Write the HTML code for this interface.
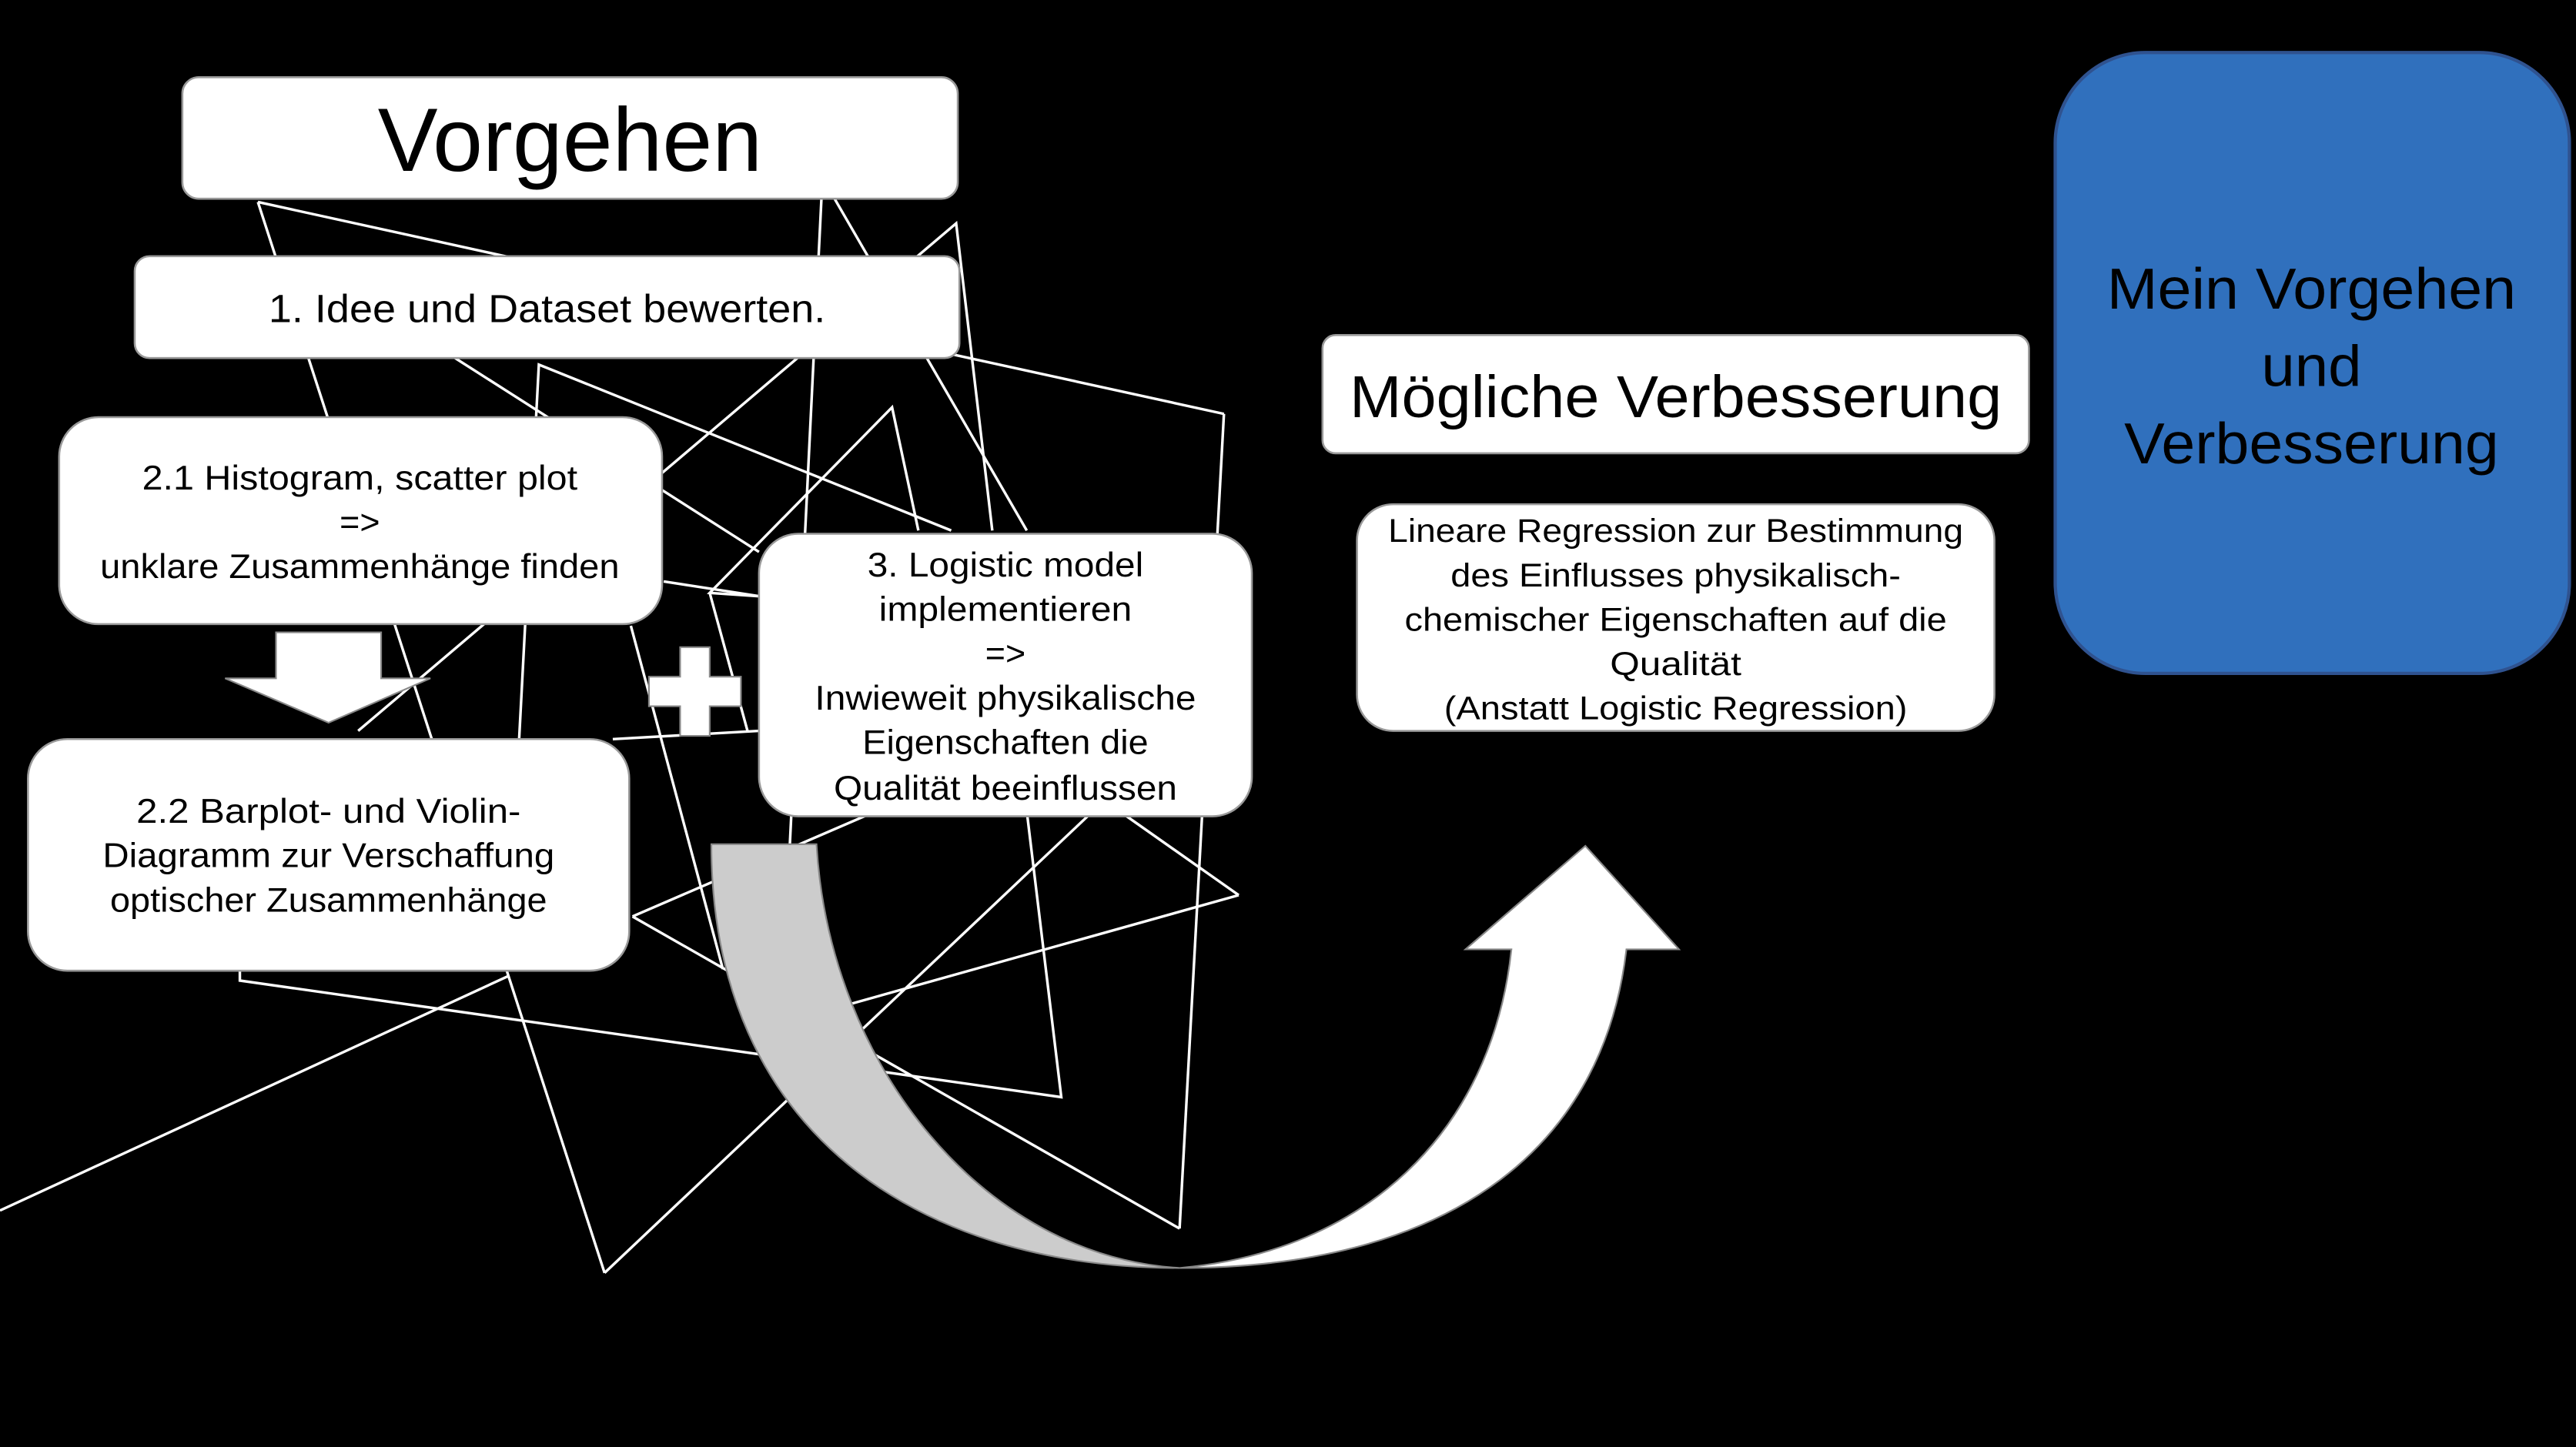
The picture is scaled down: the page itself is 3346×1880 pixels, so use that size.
<!DOCTYPE html>
<html>
<head>
<meta charset="utf-8">
<style>
html,body{margin:0;padding:0;background:#000;}
svg{display:block;}
text{font-family:"Liberation Sans",sans-serif;fill:#000;}
</style>
</head>
<body>
<svg width="3346" height="1880" viewBox="0 0 1568 881" preserveAspectRatio="none" xmlns="http://www.w3.org/2000/svg">
<rect x="0" y="0" width="1568" height="881" fill="#000"/>
<g stroke="#fff" stroke-width="1.6" fill="none">
<line x1="157" y1="123" x2="745" y2="252"/>
<line x1="745" y1="252" x2="718" y2="748"/>
<line x1="718" y1="748" x2="385" y2="558"/>
<line x1="385" y1="558" x2="533" y2="494"/>
<line x1="683" y1="495" x2="754" y2="545"/>
<line x1="754" y1="545" x2="515" y2="612"/>
<line x1="157" y1="123" x2="368" y2="775"/>
<line x1="368" y1="775" x2="662" y2="497"/>
<line x1="0" y1="737" x2="310" y2="594"/>
<polyline points="146,590 146,597 646,668 625,494"/>
<line x1="500" y1="121" x2="480" y2="530"/>
<line x1="508" y1="121" x2="625" y2="323"/>
<polyline points="604,323 582,136 218,445"/>
<polyline points="316,450 328,222 579,323"/>
<line x1="277" y1="218" x2="462" y2="336"/>
<polyline points="559,323 543,248 432,361 462,363"/>
<line x1="404" y1="354" x2="462" y2="363"/>
<line x1="432" y1="361" x2="455" y2="445"/>
<line x1="384" y1="381" x2="440" y2="590"/>
<line x1="373" y1="450" x2="462" y2="445"/>
</g>

<rect x="111" y="47" width="472" height="74" rx="10" fill="#fff" stroke="#999" stroke-width="1.2"/>
<text x="347" y="104" font-size="55" text-anchor="middle" textLength="234" lengthAdjust="spacingAndGlyphs">Vorgehen</text>

<rect x="82" y="156" width="502" height="62" rx="9" fill="#fff" stroke="#999" stroke-width="1.2"/>
<text x="333" y="196" font-size="24" text-anchor="middle" textLength="339" lengthAdjust="spacingAndGlyphs">1. Idee und Dataset bewerten.</text>

<rect x="36" y="254" width="367" height="126" rx="24" fill="#fff" stroke="#999" stroke-width="1.2"/>
<g font-size="21" text-anchor="middle">
<text x="219" y="298" textLength="265" lengthAdjust="spacingAndGlyphs">2.1 Histogram, scatter plot</text>
<text x="219" y="325">=&gt;</text>
<text x="219" y="352" textLength="316" lengthAdjust="spacingAndGlyphs">unklare Zusammenhänge finden</text>
</g>

<polygon points="168,385 232,385 232,413 262,413 200,440 137,413 168,413" fill="#fff" stroke="#888" stroke-width="1"/>

<rect x="17" y="450" width="366" height="141" rx="24" fill="#fff" stroke="#999" stroke-width="1.2"/>
<g font-size="21" text-anchor="middle">
<text x="200" y="501" textLength="234" lengthAdjust="spacingAndGlyphs">2.2 Barplot- und Violin-</text>
<text x="200" y="528" textLength="275" lengthAdjust="spacingAndGlyphs">Diagramm zur Verschaffung</text>
<text x="200" y="555" textLength="266" lengthAdjust="spacingAndGlyphs">optischer Zusammenhänge</text>
</g>

<polygon points="414,394 432,394 432,412 451,412 451,430 432,430 432,448 414,448 414,430 395,430 395,412 414,412" fill="#fff" stroke="#888" stroke-width="1"/>

<rect x="462" y="325" width="300" height="172" rx="24" fill="#fff" stroke="#999" stroke-width="1.2"/>
<g font-size="21" text-anchor="middle">
<text x="612" y="351" textLength="168" lengthAdjust="spacingAndGlyphs">3. Logistic model</text>
<text x="612" y="378" textLength="154" lengthAdjust="spacingAndGlyphs">implementieren</text>
<text x="612" y="405">=&gt;</text>
<text x="612" y="432" textLength="232" lengthAdjust="spacingAndGlyphs">Inwieweit physikalische</text>
<text x="612" y="459" textLength="174" lengthAdjust="spacingAndGlyphs">Eigenschaften die</text>
<text x="612" y="487" textLength="209" lengthAdjust="spacingAndGlyphs">Qualität beeinflussen</text>
</g>

<path d="M433,514 L497,514 C505,650 600,765 718,772 C560,772 433,690 433,514 Z" fill="#cccccc" stroke="#888" stroke-width="1"/>
<path d="M718,772 C830,762 908,690 920,578 L892,578 L965,515 L1022,578 L990,578 C975,705 875,772 718,772 Z" fill="#fff" stroke="#888" stroke-width="1"/>

<rect x="805" y="204" width="430" height="72" rx="8" fill="#fff" stroke="#999" stroke-width="1.2"/>
<text x="1020" y="254" font-size="36" text-anchor="middle" textLength="397" lengthAdjust="spacingAndGlyphs">Mögliche Verbesserung</text>

<rect x="826" y="307" width="388" height="138" rx="22" fill="#fff" stroke="#999" stroke-width="1.2"/>
<g font-size="20" text-anchor="middle">
<text x="1020" y="330" textLength="350" lengthAdjust="spacingAndGlyphs">Lineare Regression zur Bestimmung</text>
<text x="1020" y="357" textLength="274" lengthAdjust="spacingAndGlyphs">des Einflusses physikalisch-</text>
<text x="1020" y="384" textLength="330" lengthAdjust="spacingAndGlyphs">chemischer Eigenschaften auf die</text>
<text x="1020" y="411" textLength="80" lengthAdjust="spacingAndGlyphs">Qualität</text>
<text x="1020" y="438" textLength="282" lengthAdjust="spacingAndGlyphs">(Anstatt Logistic Regression)</text>
</g>

<rect x="1251" y="32" width="313" height="378" rx="55" fill="#3070bd" stroke="#2f528f" stroke-width="2"/>
<g font-size="35" text-anchor="middle">
<text x="1407" y="188" textLength="249" lengthAdjust="spacingAndGlyphs">Mein Vorgehen</text>
<text x="1407" y="235" textLength="61" lengthAdjust="spacingAndGlyphs">und</text>
<text x="1407" y="282" textLength="228" lengthAdjust="spacingAndGlyphs">Verbesserung</text>
</g>
</svg>
</body>
</html>
